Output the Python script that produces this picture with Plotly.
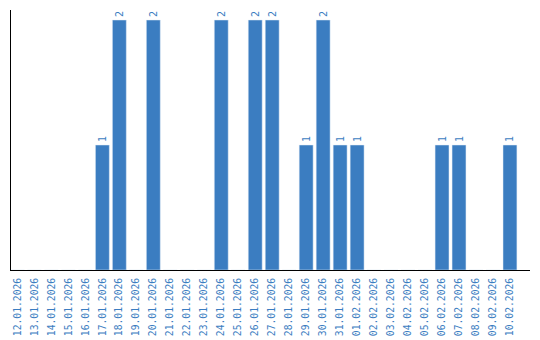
import plotly.graph_objects as go

dates = ["12.01.2026","13.01.2026","14.01.2026","15.01.2026","16.01.2026","17.01.2026",
         "18.01.2026","19.01.2026","20.01.2026","21.01.2026","22.01.2026","23.01.2026",
         "24.01.2026","25.01.2026","26.01.2026","27.01.2026","28.01.2026","29.01.2026",
         "30.01.2026","31.01.2026","01.02.2026","02.02.2026","03.02.2026","04.02.2026",
         "05.02.2026","06.02.2026","07.02.2026","08.02.2026","09.02.2026","10.02.2026"]
counts = [0,0,0,0,0,1,2,0,2,0,0,0,2,0,2,2,0,1,2,1,1,0,0,0,0,1,1,0,0,1]

blue = "#3b7dc1"
labels = [str(c) if c > 0 else "" for c in counts]

fig = go.Figure(go.Bar(
    x=list(range(len(dates))), y=counts, marker_color=blue, width=0.82,
    text=labels, textposition="outside", textangle=-90,
    textfont=dict(family="DejaVu Sans Mono", size=10, color=blue),
    cliponaxis=False,
))
fig.update_layout(
    width=540, height=340,
    margin=dict(l=10.5, r=10, t=10, b=70),
    plot_bgcolor="white", paper_bgcolor="white",
    showlegend=False,
    xaxis=dict(range=[-0.38, 30.18], tickmode="array", tickvals=list(range(len(dates))),
               ticktext=dates, tickangle=-90, showgrid=False, zeroline=False,
               showline=True, linecolor="black", linewidth=1, ticks="", automargin=False,
               ticklabelstandoff=3,
               tickfont=dict(family="DejaVu Sans Mono", size=9.7, color=blue)),
    yaxis=dict(range=[0, 2.08], showgrid=False, zeroline=False, showticklabels=False,
               showline=True, linecolor="black", linewidth=1, ticks="", automargin=False),
)
fig.write_html("out.html")
